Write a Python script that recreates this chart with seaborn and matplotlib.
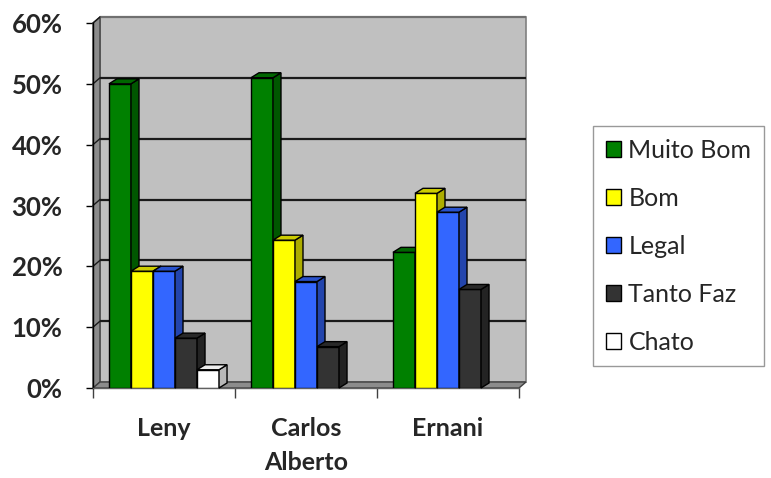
import numpy as np
import pandas as pd
import matplotlib
matplotlib.use("Agg")
import matplotlib.pyplot as plt
import matplotlib.colors as mcolors
from matplotlib.patches import Polygon, Rectangle, Patch
from matplotlib.ticker import PercentFormatter, FixedLocator
import seaborn as sns

# --- data -------------------------------------------------------------
categories = ["Leny", "Carlos\nAlberto", "Ernani"]
series = ["Muito Bom", "Bom", "Legal", "Tanto Faz", "Chato"]
muito_bom = [0.50, 0.51, 0.223]
bom = [0.192, 0.243, 0.32]
legal = [0.192, 0.175, 0.289]
tanto_faz = [0.082, 0.068, 0.162]
chato = [0.03, 0.0, 0.0]
colors = ["#008000", "#FFFF00", "#3366FF", "#333333", "#FFFFFF"]
yticks = [0.0, 0.1, 0.2, 0.3, 0.4, 0.5, 0.6]

values = [muito_bom, bom, legal, tanto_faz, chato]
df = pd.DataFrame(
    [(c, s, v[i]) for s, v in zip(series, values) for i, c in enumerate(categories)],
    columns=["pessoa", "opiniao", "valor"],
)

sns.set_theme(style="white")
plt.rcParams["font.family"] = ["Lato", "DejaVu Sans"]

W, H, DPI = 771, 478, 100
fig = plt.figure(figsize=(W / DPI, H / DPI), dpi=DPI)
# axes box in pixels: x 93..519, y 23..388 (top-down)
ax = fig.add_axes([93 / W, (H - 388) / H, (519 - 93) / W, (388 - 23) / H])

sns.barplot(
    data=df, x="pessoa", y="valor", hue="opiniao",
    order=categories, hue_order=series, palette=colors, saturation=1,
    width=0.775, edgecolor="black", linewidth=1.0,
    legend=False, ax=ax, zorder=3,
)

ax.set_xlim(-0.5, 2.5)
ax.set_ylim(0, 0.6)

# depth of the pseudo-3D box, expressed in data units
px_x = 3.0 / (519 - 93)
px_y = 0.6 / (388 - 23)
dx, dy = 7 * px_x, 6 * px_y
x0, x1, ytop = -0.5, 2.5, 0.6

# back wall
ax.add_patch(Rectangle((x0 + dx, dy), x1 - x0, ytop, facecolor="#C0C0C0",
                       edgecolor="#808080", lw=1.2, zorder=0.5, clip_on=False))
# left wall
ax.add_patch(Polygon([(x0, 0), (x0, ytop), (x0 + dx, ytop + dy), (x0 + dx, dy)],
                     closed=True, facecolor="#8C8C8C", edgecolor="#404040",
                     lw=1.0, zorder=0.6, clip_on=False))
# floor
ax.add_patch(Polygon([(x0, 0), (x1, 0), (x1 + dx, dy), (x0 + dx, dy)],
                     closed=True, facecolor="#8C8C8C", edgecolor="#404040",
                     lw=1.0, zorder=0.7, clip_on=False))
# gridlines on the back wall plus the short runs across the left wall
for yv in yticks[1:]:
    col = "#1A1A1A" if yv < 0.6 else "#707070"
    ax.plot([x0 + dx, x1 + dx], [yv + dy, yv + dy], color=col, lw=1.6,
            zorder=0.8, clip_on=False, solid_capstyle="butt")
    ax.plot([x0, x0 + dx], [yv, yv + dy], color="#1A1A1A", lw=1.0,
            zorder=0.8, clip_on=False)

# pseudo-3D side and top faces of every bar
bdx, bdy = 8 * px_x, 5 * px_y
for j, cont in enumerate(ax.containers):
    base = mcolors.to_rgb(colors[j])
    side = tuple(c * 0.68 for c in base)
    top = tuple(c * 0.8 for c in base)
    if colors[j] == "#FFFFFF":
        side, top = (0.72, 0.72, 0.72), (0.93, 0.93, 0.93)
    for bar in cont.patches:
        h = bar.get_height()
        bar.set_zorder(3 + j)
        if h <= 0:
            bar.set_visible(False)
            continue
        bx0 = bar.get_x()
        bx1 = bx0 + bar.get_width()
        ax.add_patch(Polygon([(bx1, 0), (bx1 + bdx, bdy), (bx1 + bdx, h + bdy), (bx1, h)],
                             closed=True, facecolor=side, edgecolor="black",
                             lw=1.0, zorder=3 + j, clip_on=False))
        ax.add_patch(Polygon([(bx0, h), (bx0 + bdx, h + bdy), (bx1 + bdx, h + bdy), (bx1, h)],
                             closed=True, facecolor=top, edgecolor="black",
                             lw=1.0, zorder=3 + j, clip_on=False))

# axes styling
for s in ("top", "right"):
    ax.spines[s].set_visible(False)
ax.spines["left"].set_color("black")
ax.spines["left"].set_linewidth(1.0)
ax.spines["bottom"].set_color("#606060")
ax.spines["bottom"].set_linewidth(1.0)
ax.set_facecolor("none")
ax.set_xlabel("")
ax.set_ylabel("")

ax.set_yticks(yticks)
ax.yaxis.set_major_formatter(PercentFormatter(xmax=1, decimals=0))
ax.tick_params(axis="y", direction="out", length=5, width=1.0, color="black",
               pad=17, labelsize=18.5, left=True)
for t in ax.get_yticklabels():
    t.set_fontweight("bold")

ax.xaxis.set_major_locator(FixedLocator([-0.5, 0.5, 1.5, 2.5]))
ax.xaxis.set_minor_locator(FixedLocator([0, 1, 2]))
ax.set_xticklabels([], minor=False)
ax.set_xticklabels(categories, minor=True, fontsize=18, fontweight="bold",
                   linespacing=1.55, va="top")
ax.tick_params(axis="x", which="major", direction="out", length=7, width=1.0,
               color="#404040", bottom=True)
ax.tick_params(axis="x", which="minor", length=0, pad=21)

# legend
handles = [Patch(facecolor=c, edgecolor="black", lw=1.0) for c in colors]
leg = fig.legend(handles, series, loc="upper left",
                 bbox_to_anchor=(593 / W, 1 - 126 / H), fontsize=18,
                 frameon=True, fancybox=False, edgecolor="#808080",
                 handlelength=0.6, handleheight=0.6, handletextpad=0.32,
                 labelspacing=1.0, borderpad=0.5, borderaxespad=0)
leg.get_frame().set_linewidth(1.0)

fig.savefig("out.png", dpi=DPI, facecolor="white")
